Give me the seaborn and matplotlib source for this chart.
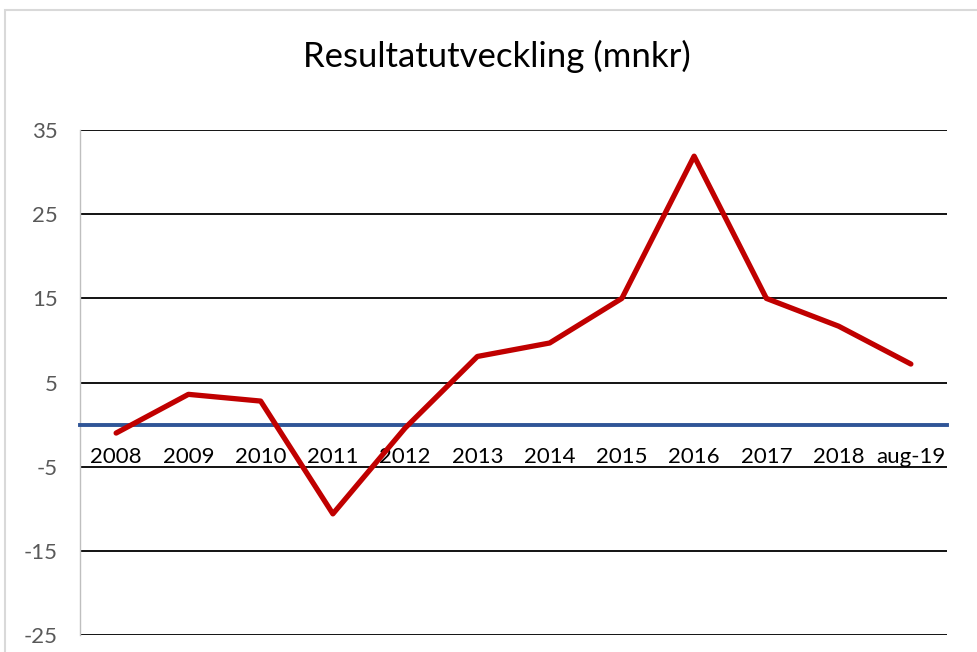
import matplotlib
matplotlib.use("Agg")
import matplotlib.pyplot as plt
import matplotlib.patches as mpatches
import seaborn as sns
import pandas as pd

# data
years = ['2008', '2009', '2010', '2011', '2012', '2013', '2014',
         '2015', '2016', '2017', '2018', 'aug-19']
result = [-1.0, 3.6, 2.8, -10.6, -0.4, 8.1, 9.7, 15.0, 31.9, 15.0, 11.7, 7.2]
y_ticks = [-25, -15, -5, 5, 15, 25, 35]

df = pd.DataFrame({'year': years, 'result': result})

sns.set_style('white')
plt.rcParams['font.family'] = ['Lato', 'DejaVu Sans']
plt.rcParams['axes.unicode_minus'] = False

fig = plt.figure(figsize=(9.78, 6.52), dpi=100)
ax = fig.add_axes([0.0818, 0.026, 0.8865, 0.7745])

# light grey chart border (cropped on right and bottom)
fig.patches.append(mpatches.Rectangle((5 / 978, -0.1), 1.2, 1 - 10 / 652 + 0.1,
                                      transform=fig.transFigure, fill=False,
                                      edgecolor='#D9D9D9', lw=1.5))

sns.lineplot(data=df, x='year', y='result', sort=False, color='#C00000',
             lw=3.8, ax=ax, zorder=3, solid_capstyle='round',
             solid_joinstyle='round')

ax.set_xlim(-0.5, len(years) - 0.5)
ax.set_ylim(-25, 35)
ax.set_yticks(y_ticks)
ax.grid(axis='y', color='black', lw=1.3)
ax.set_axisbelow(True)

ax.spines['top'].set_visible(False)
ax.spines['right'].set_visible(False)
ax.spines['left'].set_color('#BFBFBF')
ax.spines['left'].set_linewidth(1)
ax.spines['bottom'].set_position(('data', 0))
ax.spines['bottom'].set_color('#2F5597')
ax.spines['bottom'].set_linewidth(2.8)
ax.spines['bottom'].set_zorder(2.5)

ax.tick_params(axis='y', length=0, pad=16, labelsize=16, labelcolor='#595959')
ax.tick_params(axis='x', length=0, pad=16, labelsize=16, labelcolor='black')
ax.set_xlabel('')
ax.set_ylabel('')

fig.text(0.508, 1 - 56 / 652, 'Resultatutveckling (mnkr)', ha='center',
         va='center', fontsize=25, color='black')

fig.savefig('out.png', dpi=100)
